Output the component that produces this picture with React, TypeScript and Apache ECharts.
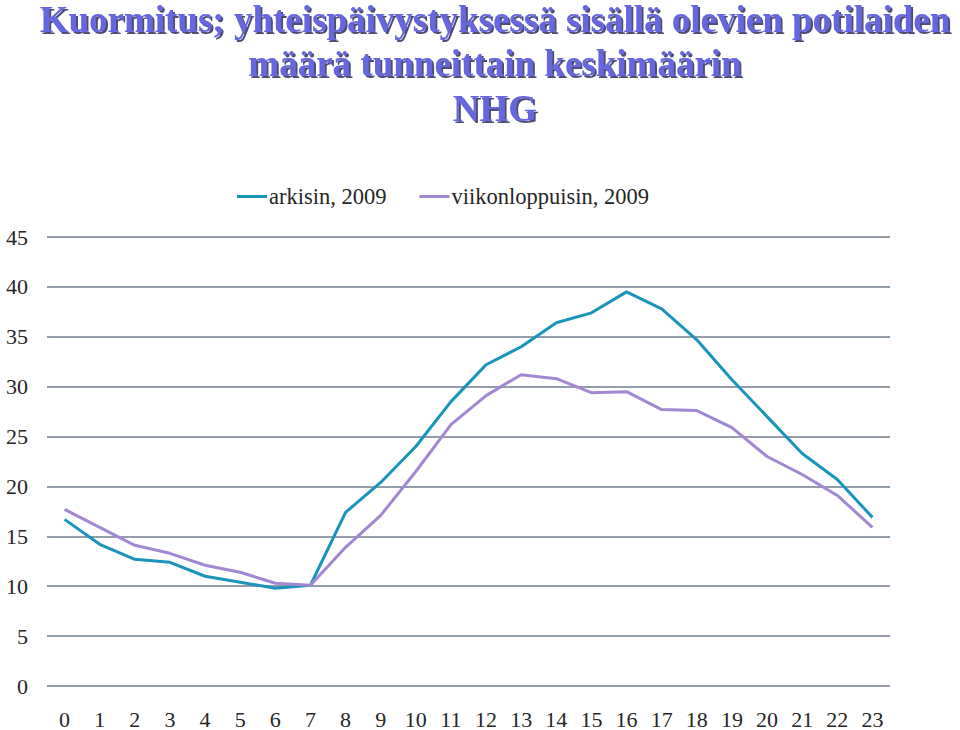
import React, { useEffect, useRef } from "react";
import * as echarts from "echarts";

const hours = ["0","1","2","3","4","5","6","7","8","9","10","11","12","13","14","15","16","17","18","19","20","21","22","23"];
const arkisin = [16.7,14.2,12.7,12.4,11.0,10.4,9.8,10.1,17.4,20.4,24.0,28.5,32.2,34.0,36.4,37.4,39.5,37.8,34.7,30.7,27.0,23.3,20.7,16.9];
const viikonloppuisin = [17.7,15.9,14.1,13.3,12.1,11.4,10.3,10.1,13.9,17.1,21.5,26.2,29.1,31.2,30.8,29.4,29.5,27.7,27.6,25.9,23.0,21.2,19.1,15.9];
const titleLines = ["Kuormitus; yhteispäivystyksessä sisällä olevien potilaiden", "määrä tunneittain keskimäärin", "NHG"];
const seriesNames = ["arkisin, 2009", "viikonloppuisin, 2009"];

const FONT = "Liberation Serif";
const TITLE_TOPS = [0.5, 44.5, 89.5];

export default function App() {
  const ref = useRef<HTMLDivElement>(null);
  useEffect(() => {
    if (!ref.current) return;
    const chart = echarts.init(ref.current, undefined, { renderer: "svg" });
    chart.setOption({
      animation: false,
      backgroundColor: "#ffffff",
      title: titleLines.map((t, i) => ({
        text: t,
        left: 495,
        textAlign: "center",
        top: TITLE_TOPS[i],
        padding: 0,
        textStyle: {
          fontFamily: FONT,
          fontWeight: "bold",
          fontSize: 37,
          lineHeight: 37,
          color: "#6666e0",
          textShadowColor: "rgba(20,20,70,0.75)",
          textShadowOffsetX: 2,
          textShadowOffsetY: 2,
          textShadowBlur: 1.5,
        },
      })),
      legend: {
        top: 180,
        left: 232,
        itemWidth: 30,
        itemHeight: 3,
        itemGap: 33,
        icon: "rect",
        textStyle: { fontFamily: FONT, fontSize: 22.5, color: "#262626", padding: [0, 0, 0, -3] },
        data: seriesNames,
      },
      grid: { left: 47, right: 70, top: 237, bottom: 44, containLabel: false },
      xAxis: {
        type: "category",
        data: hours,
        boundaryGap: true,
        axisLine: { show: false },
        axisTick: { show: false },
        axisLabel: { fontFamily: FONT, fontSize: 22, color: "#262626", margin: 22, interval: 0 },
      },
      yAxis: {
        type: "value",
        min: 0,
        max: 45,
        interval: 5,
        axisLine: { show: false },
        axisTick: { show: false },
        axisLabel: { fontFamily: FONT, fontSize: 22, color: "#262626", margin: 19 },
        splitLine: { lineStyle: { color: "#6f7d8f", width: 1.5 } },
      },
      series: [
        {
          name: seriesNames[0],
          type: "line",
          data: arkisin,
          symbol: "none",
          lineStyle: { color: "#1b94bb", width: 3 },
          itemStyle: { color: "#1b94bb" },
        },
        {
          name: seriesNames[1],
          type: "line",
          data: viikonloppuisin,
          symbol: "none",
          lineStyle: { color: "#a287d2", width: 3 },
          itemStyle: { color: "#a287d2" },
        },
      ],
    });
    return () => chart.dispose();
  }, []);
  return <div ref={ref} style={{ width: 960, height: 730, position: "absolute", left: 0, top: 0 }} />;
}
